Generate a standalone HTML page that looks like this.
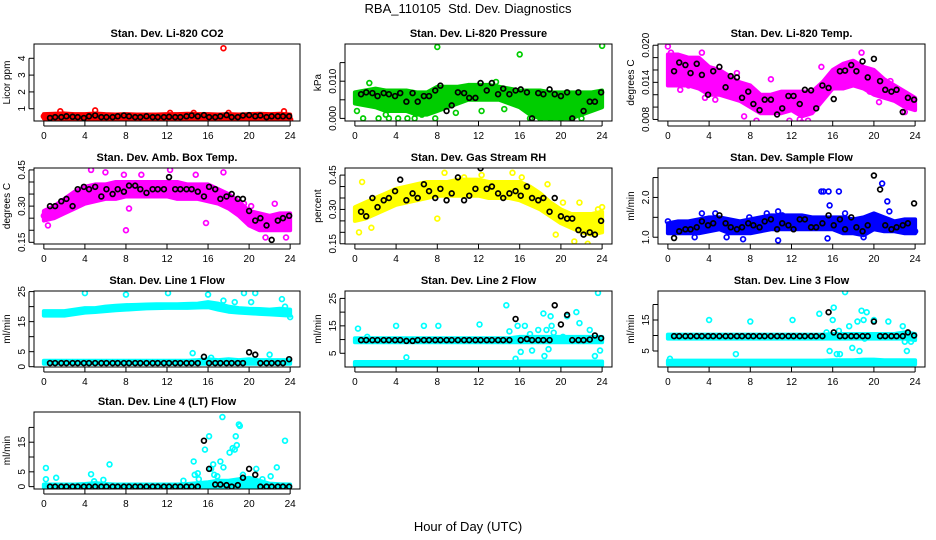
<!DOCTYPE html>
<html><head><meta charset="utf-8">
<style>
html,body{margin:0;padding:0;background:#fff;}
svg{display:block;font-family:"Liberation Sans",Arial,sans-serif;}
</style></head>
<body>
<svg id="chart" width="936" height="540" viewBox="0 0 936 540">
<text x="468" y="13" text-anchor="middle" font-size="13">RBA_110105&#160; Std. Dev. Diagnostics</text>
<text x="468" y="531" text-anchor="middle" font-size="13">Hour of Day (UTC)</text>
</svg>
<script>
const blackHours=[0.6,1.1,1.7,2.2,2.8,3.3,3.9,4.4,5.0,5.6,6.1,6.7,7.2,7.8,8.3,8.9,9.4,10.0,10.6,11.1,11.7,12.2,12.8,13.3,13.9,14.4,15.0,15.6,16.1,16.7,17.2,17.8,18.3,18.9,19.4,20.0,20.6,21.1,21.7,22.2,22.8,23.3,23.9];
const bandHours=[0,1,2,3,4,5,6,7,8,9,10,11,12,13,14,15,16,17,18,19,20,21,22,23,24];
const xTicks=[0,4,8,12,16,20,24];

// Panel 1 CO2
const co2Lo=[0.42,0.42,0.42,0.42,0.42,0.42,0.42,0.42,0.42,0.42,0.42,0.42,0.42,0.42,0.42,0.42,0.42,0.42,0.42,0.42,0.42,0.42,0.42,0.42,0.42];
const co2Hi=[0.68,0.7,0.72,0.68,0.68,0.72,0.68,0.66,0.68,0.66,0.66,0.66,0.68,0.68,0.7,0.68,0.68,0.66,0.68,0.66,0.68,0.7,0.68,0.7,0.66];
const co2Black=[0.45,0.5,0.5,0.55,0.52,0.5,0.45,0.55,0.6,0.5,0.5,0.5,0.55,0.6,0.55,0.5,0.5,0.55,0.5,0.5,0.5,0.52,0.5,0.5,0.55,0.6,0.55,0.62,0.5,0.5,0.55,0.62,0.5,0.5,0.6,0.62,0.55,0.6,0.5,0.55,0.55,0.55,0.55];
const co2OutX=[17.5,1.6,5.0,12.3,14.6,18.0,23.4,24.0,0.0,9.5];
const co2OutY=[4.6,0.85,0.9,0.75,0.75,0.75,0.85,0.35,0.55,0.35];

// Panel 2 Pressure
const prLo=[0.004,0.0035,0.003,0.002,0.002,0.002,0.001,0.001,0.002,0.003,0.004,0.005,0.005,0.005,0.005,0.004,0.003,0.001,0,0,0,0,0.001,0.002,0.003];
const prHi=[0.007,0.0075,0.008,0.0075,0.0075,0.0075,0.007,0.007,0.0085,0.0085,0.0085,0.009,0.009,0.009,0.0085,0.008,0.0075,0.0075,0.0075,0.007,0.007,0.007,0.007,0.007,0.0075];
const prBlack=[0.0065,0.007,0.0068,0.006,0.0068,0.0065,0.006,0.0068,0.0045,0.0068,0.0045,0.006,0.006,0.0075,0.0088,0.002,0.0035,0.007,0.0068,0.0055,0.0055,0.0095,0.0075,0.0095,0.0065,0.008,0.0065,0.0075,0.0078,0.007,0,0.0068,0.0065,0.0078,0.0065,0.006,0.007,0,0.007,0.002,0.0045,0.0045,0.007];
const prOutX=[8.0,16.0,24.0,0.8,2.3,3.3,4.2,5.1,1.4,13.7,17.0,18.0,19.0,20.0,21.0,22.0,0.2,7.8,6.5,3.0,5.8,9.8,12.3,14.5];
const prOutY=[0.0192,0.0172,0.0195,0,0,0,0,0,0.0095,0.0098,0,0,0,0,0,0,0.002,0,0.001,0.001,0,0.0015,0.002,0.0025];

// Panel 3 Li-820 Temp
const ltLo=[0.0135,0.0135,0.0135,0.013,0.012,0.012,0.0115,0.011,0.010,0.009,0.009,0.009,0.0095,0.0085,0.009,0.011,0.013,0.013,0.0135,0.013,0.012,0.0115,0.011,0.010,0.0095];
const ltHi=[0.0185,0.0185,0.018,0.018,0.0165,0.016,0.015,0.014,0.0135,0.012,0.012,0.0125,0.0125,0.0125,0.0125,0.014,0.016,0.017,0.0175,0.0165,0.016,0.0145,0.0135,0.0125,0.0115];
const ltBlack=[0.0158,0.0172,0.0168,0.0155,0.017,0.0152,0.012,0.0158,0.0165,0.0132,0.015,0.0148,0.0115,0.0125,0.0105,0.0095,0.0112,0.0112,0.0088,0.0098,0.0118,0.0118,0.0105,0.0128,0.0127,0.0098,0.0135,0.0131,0.0113,0.0158,0.0159,0.0168,0.0158,0.0174,0.0148,0.0178,0.0142,0.0128,0.0125,0.0128,0.0092,0.0115,0.0112];
const ltOutX=[0.0,0.3,1.2,2.0,3.3,4.6,6.7,7.4,8.6,9.5,10.0,11.8,12.8,13.0,13.6,14.9,16.8,18.8,19.6,20.5,21.6,23.0,3.6];
const ltOutY=[0.0198,0.0188,0.0128,0.0135,0.0188,0.0112,0.0155,0.0085,0.0078,0.0098,0.0145,0.0078,0.008,0.0075,0.0078,0.0165,0.0135,0.0188,0.0125,0.0108,0.0142,0.0092,0.0115];

// Panel 4 Amb Box Temp
const abLo=[0.24,0.25,0.27,0.29,0.31,0.32,0.33,0.33,0.34,0.34,0.34,0.34,0.34,0.33,0.33,0.33,0.32,0.31,0.29,0.26,0.22,0.20,0.20,0.20,0.20];
const abHi=[0.28,0.30,0.33,0.36,0.38,0.39,0.39,0.40,0.40,0.40,0.40,0.40,0.40,0.40,0.39,0.39,0.39,0.37,0.35,0.32,0.28,0.27,0.26,0.27,0.27];
const abBlack=[0.30,0.30,0.32,0.33,0.30,0.37,0.38,0.37,0.38,0.34,0.37,0.35,0.37,0.36,0.385,0.385,0.37,0.355,0.37,0.37,0.37,0.42,0.37,0.37,0.37,0.37,0.36,0.34,0.38,0.37,0.33,0.34,0.35,0.33,0.33,0.28,0.24,0.25,0.22,0.16,0.24,0.25,0.26];
const abOutX=[0.4,4.6,6.0,7.8,8.0,8.3,9.5,12.3,14.8,15.8,17.5,19.5,20.2,22.5,21.6,23.6,0.0];
const abOutY=[0.22,0.45,0.44,0.43,0.2,0.29,0.43,0.45,0.43,0.23,0.44,0.31,0.30,0.31,0.17,0.17,0.26];

// Panel 5 Gas Stream RH
const rhLo=[0.25,0.26,0.28,0.30,0.32,0.33,0.34,0.35,0.36,0.36,0.36,0.36,0.36,0.35,0.35,0.35,0.34,0.32,0.30,0.27,0.24,0.22,0.20,0.19,0.20];
const rhHi=[0.31,0.33,0.35,0.37,0.39,0.40,0.41,0.42,0.42,0.42,0.43,0.43,0.43,0.42,0.42,0.42,0.42,0.40,0.37,0.33,0.30,0.28,0.28,0.28,0.29];
const rhBlack=[0.29,0.27,0.35,0.31,0.34,0.35,0.38,0.43,0.34,0.37,0.35,0.41,0.38,0.35,0.39,0.34,0.37,0.44,0.34,0.36,0.39,0.48,0.39,0.4,0.37,0.35,0.37,0.38,0.36,0.40,0.35,0.34,0.35,0.29,0.35,0.27,0.26,0.26,0.21,0.19,0.2,0.19,0.25];
const rhOutX=[0.7,0.4,1.6,8.0,8.7,10.6,12.3,15.3,16.2,18.7,19.5,20.2,21.3,21.8,22.6,23.6,24.0];
const rhOutY=[0.42,0.2,0.22,0.26,0.46,0.44,0.45,0.46,0.44,0.41,0.19,0.33,0.16,0.33,0.15,0.3,0.31];

// Panel 6 Sample Flow
const sfLo=[1.1,1.1,1.1,1.1,1.15,1.2,1.1,1.1,1.1,1.15,1.2,1.2,1.2,1.2,1.2,1.2,1.2,1.1,1.1,1.05,1.2,1.15,1.15,1.1,1.1];
const sfHi=[1.35,1.4,1.4,1.45,1.5,1.5,1.45,1.4,1.45,1.5,1.55,1.55,1.55,1.55,1.5,1.5,1.5,1.5,1.45,1.5,1.6,1.5,1.4,1.45,1.45];
const sfBlack=[0.98,1.15,1.2,1.2,1.25,1.4,1.3,1.35,1.55,1.35,1.25,1.2,1.25,1.35,1.3,1.25,1.4,1.45,1.2,1.35,1.3,1.2,1.45,1.45,1.25,1.25,1.35,1.55,1.3,1.45,1.2,1.5,1.25,1.15,1.3,2.55,2.2,1.3,1.2,1.25,1.3,1.35,1.85];
const sfOutX=[0.0,3.3,4.6,5.7,7.3,7.9,9.6,10.7,11.1,14.9,15.1,15.6,15.7,16.6,15.5,17.2,20.8,21.3,21.5,22.1,24.0,2.6,19.0,10.7];
const sfOutY=[1.4,1.6,1.6,1.0,0.95,1.5,1.6,1.65,1.55,2.15,2.15,2.15,1.8,2.15,0.97,1.6,2.35,1.9,1.65,2.85,1.15,1.0,1.0,0.92];

// Panel 7 Line 1 Flow
const l1UpLo=[17,17,17,17.5,18,18.2,18.5,18.8,19,19.2,19.4,19.5,19.6,19.6,19.6,19.7,19.8,19,18.3,18,17.8,17.6,17.4,17.2,17];
const l1UpHi=[18.5,18.5,18.5,19,19.5,19.5,20,20.3,20.5,20.6,20.7,20.8,20.8,20.8,20.9,21,21.5,21,20,19.5,19.3,19.2,19,19.3,19];
const l1LowLo=[1,1,1,1,1,1,1,1,1,1,1,1,1,1,1,1,1,1,1,1,1,1,1,1,1];
const l1LowHi=[2,2,2,2,2,2,2,2,2,2,2,2,2,2,2,2.2,2.5,2.2,2.5,2.2,2.5,2.2,2.2,2.2,2.2];
const l1Black=[1.2,1.2,1.2,1.2,1.2,1.2,1.2,1.2,1.2,1.2,1.2,1.2,1.2,1.2,1.2,1.2,1.2,1.2,1.2,1.2,1.2,1.2,1.2,1.2,1.2,1.2,1.2,3.3,1.2,1.2,1.2,1.2,1.2,1.2,1.2,4.8,4.0,1.2,1.2,1.2,1.2,1.2,2.5];
const l1OutX=[4.0,8.0,12.1,16.0,19.5,20.2,20.6,17.5,18.6,23.2,23.5,24.0,14.5,22.0,16.3];
const l1OutY=[24.5,24,24.5,24,24.5,21.5,24.5,22,21.5,22.5,20,16.5,4.5,4,3];

// Panel 8 Line 2 Flow
const l2UpLo=[9,9,9,9,9,9,9,9,9,9,9,9,9,9,9,9,9,9,9,9,9,9,9,9,9];
const l2UpHi=[10.5,10.5,10.5,10.5,10.5,10.5,10.5,10.5,10.5,10.5,10.5,10.5,10.5,10.5,10.5,10.5,11,11,11,11,11,11,11,11,11];
const l2LowLo=[0.7,0.7,0.7,0.7,0.7,0.7,0.7,0.7,0.7,0.7,0.7,0.7,0.7,0.7,0.7,0.7,0.7,0.7,0.7,0.7,0.7,0.7,0.7,0.7,0.7];
const l2LowHi=[1.8,1.8,1.8,1.8,1.8,1.8,1.8,1.8,1.8,1.8,1.8,1.8,1.8,1.8,1.8,1.8,2,2,2,2,2,2,2,2,2];
const l2Black=[9.8,9.8,9.8,9.8,9.8,9.8,9.8,9.8,9.5,9.5,9.8,9.8,9.8,9.8,9.8,9.8,9.8,9.8,9.8,9.8,9.8,9.8,9.8,9.8,9.8,9.8,9.8,17.5,9.8,10.2,9.8,9.8,9.8,9.8,22.5,15.5,19,9.8,9.8,9.8,10,11.5,10.5];
const l2OutX=[0.3,1.2,4.0,5.0,6.7,8.1,12.1,14.7,15.0,15.6,16.5,17.0,17.2,17.8,18.3,18.6,18.8,19.0,19.1,19.3,20.2,20.6,21.5,21.8,22.8,23.3,23.6,23.8,15.8,16.1,18.4];
const l2OutY=[14,11,15,3.5,15,15,15.5,22.5,13,3,15,12,6,13.5,19.5,13.5,6.5,18.5,15,12.5,11,18.5,20,16,13.5,4,27,6,15,5.5,4];

// Panel 9 Line 3 Flow
const l3UpLo=[9,9,9,9,9,9,9,9,9,9,9,9,9,9,9,9,9,9,9,9,9,9,9,9,8.5];
const l3UpHi=[10.3,10.3,10.3,10.3,10.3,10.3,10.3,10.3,10.3,10.3,10.3,10.3,10.3,10.3,10.3,10.3,10.5,10.5,10.5,10.5,10.5,10.5,10.5,11,10.5];
const l3LowLo=[0.7,0.7,0.7,0.7,0.7,0.7,0.7,0.7,0.7,0.7,0.7,0.7,0.7,0.7,0.7,0.7,0.7,0.7,0.7,0.7,0.7,0.7,0.7,0.7,0.7];
const l3LowHi=[1.9,1.9,1.9,1.9,1.9,1.9,1.9,1.9,1.9,1.9,1.9,1.9,1.9,1.9,1.9,1.9,2,2,2,2.2,2.2,2,2,2,2];
const l3Black=[9.8,9.8,9.8,9.8,9.8,9.8,9.8,9.8,9.8,9.8,9.8,9.8,9.8,9.8,9.8,9.8,9.8,9.8,9.8,9.8,9.8,9.8,9.8,9.8,9.8,9.8,9.8,17.5,11,9.8,9.8,9.8,9.8,9.8,9.8,14.5,9.8,9.8,9.8,9.8,9.8,11,10];
const l3OutX=[0.2,4.0,6.6,8.0,12.1,14.7,15.4,15.7,16.0,16.1,16.4,16.6,16.7,17.2,17.6,17.9,18.4,18.6,18.8,19.0,19.1,19.3,20.0,21.4,22.8,23.0,23.6,23.2];
const l3OutY=[2.5,15,4,14.5,15,17,11,5,15,19,4,11.5,4,24,13,6,14.5,5,18,15,9,17.5,15,14.5,13,8,8,5];

// Panel 10 Line 4 (LT) Flow
const l4Lo=[-0.3,-0.3,-0.3,-0.3,-0.3,-0.3,-0.3,-0.3,-0.3,-0.3,-0.3,-0.3,-0.3,-0.3,-0.3,-0.3,-0.3,-0.3,-0.3,-0.3,-0.3,-0.3,-0.3,-0.3,-0.3];
const l4Hi=[0.7,0.7,0.7,0.7,0.9,1.2,0.9,0.7,0.7,0.7,0.7,0.7,0.7,0.7,0.9,1.2,1.5,2,2,2.5,3,2,1,0.8,0.7];
const l4Black=[0,0,0,0,0,0,0,0,0,0,0,0,0,0,0,0,0,0,0,0,0,0,0,0,0,0,0,15.5,6,0.7,0.7,0.5,0,0.5,3,6,4,0,0,0,0,0,0];
const l4OutX=[0.2,0.2,1.2,4.6,4.9,5.8,6.4,13.6,14.6,14.7,15.0,15.1,15.7,16.1,16.3,16.5,16.6,16.9,17.2,17.4,17.5,18.1,18.4,18.6,18.7,18.8,19.0,19.1,19.4,20.7,21.3,22.1,22.7,23.5];
const l4OutY=[6.3,2.5,3,4.2,1.8,2.3,7.5,2,8.5,4,4.5,2.5,12.5,17,6,7.5,4,3.5,8.5,23.5,6.5,11.5,13,12.5,17,14,21,20.5,4,6,2.5,3.5,6.5,15.5];

const NS='http://www.w3.org/2000/svg';
const svg=document.getElementById('chart');
function mk(tag,attrs,parent){const e=document.createElementNS(NS,tag);for(const k in attrs)e.setAttribute(k,attrs[k]);(parent||svg).appendChild(e);return e;}

const colX=[[34,300],[345,612],[658,925]];
const rowY=[[44,121],[168,244],[291,367],[412,489]];

const panels=[
 {key:'co2',title:'Stan. Dev. Li-820 CO2',ylab:'Licor ppm',col:0,row:0,color:'#ff0000',ydom:[0.27,4.85],yt:[1,2,3,4],ytl:['1','2','3','4'],bands:[[co2Lo,co2Hi]],black:co2Black,ox:co2OutX,oy:co2OutY},
 {key:'pressure',title:'Stan. Dev. Li-820 Pressure',ylab:'kPa',col:1,row:0,color:'#00cd00',ydom:[-0.0007,0.020],yt:[0,0.005,0.010,0.015],ytl:['0.000','','0.010',''],bands:[[prLo,prHi]],black:prBlack,ox:prOutX,oy:prOutY},
 {key:'li820-temp',title:'Stan. Dev. Li-820 Temp.',ylab:'degrees C',col:2,row:0,color:'#ff00ff',ydom:[0.00775,0.0202],yt:[0.008,0.010,0.012,0.014,0.016,0.018,0.020],ytl:['0.008','','','0.014','','','0.020'],bands:[[ltLo,ltHi]],black:ltBlack,ox:ltOutX,oy:ltOutY},
 {key:'amb-box-temp',title:'Stan. Dev. Amb. Box Temp.',ylab:'degrees C',col:0,row:1,color:'#ff00ff',ydom:[0.143,0.458],yt:[0.15,0.20,0.25,0.30,0.35,0.40,0.45],ytl:['0.15','','','0.30','','','0.45'],bands:[[abLo,abHi]],black:abBlack,ox:abOutX,oy:abOutY},
 {key:'gas-rh',title:'Stan. Dev. Gas Stream RH',ylab:'percent',col:1,row:1,color:'#ffff00',ydom:[0.149,0.481],yt:[0.15,0.20,0.25,0.30,0.35,0.40,0.45],ytl:['0.15','','','0.30','','','0.45'],bands:[[rhLo,rhHi]],black:rhBlack,ox:rhOutX,oy:rhOutY},
 {key:'sample-flow',title:'Stan. Dev. Sample Flow',ylab:'ml/min',col:2,row:1,color:'#0000ff',ydom:[0.83,2.74],yt:[1.0,1.5,2.0,2.5],ytl:['1.0','','2.0',''],bands:[[sfLo,sfHi]],black:sfBlack,ox:sfOutX,oy:sfOutY},
 {key:'line1-flow',title:'Stan. Dev. Line 1 Flow',ylab:'ml/min',col:0,row:2,color:'#00ffff',ydom:[-0.1,25.2],yt:[0,5,10,15,20,25],ytl:['0','5','','15','','25'],bands:[[l1UpLo,l1UpHi],[l1LowLo,l1LowHi]],black:l1Black,ox:l1OutX,oy:l1OutY},
 {key:'line2-flow',title:'Stan. Dev. Line 2 Flow',ylab:'ml/min',col:1,row:2,color:'#00ffff',ydom:[0,27.7],yt:[5,10,15,20,25],ytl:['5','','15','','25'],bands:[[l2UpLo,l2UpHi],[l2LowLo,l2LowHi]],black:l2Black,ox:l2OutX,oy:l2OutY},
 {key:'line3-flow',title:'Stan. Dev. Line 3 Flow',ylab:'ml/min',col:2,row:2,color:'#00ffff',ydom:[-0.16,24.35],yt:[5,10,15,20],ytl:['5','','15',''],bands:[[l3UpLo,l3UpHi],[l3LowLo,l3LowHi]],black:l3Black,ox:l3OutX,oy:l3OutY},
 {key:'line4-flow',title:'Stan. Dev. Line 4 (LT) Flow',ylab:'ml/min',col:0,row:3,color:'#00ffff',ydom:[-0.8,25.2],yt:[0,5,10,15,20],ytl:['0','5','','15',''],bands:[[l4Lo,l4Hi]],black:l4Black,ox:l4OutX,oy:l4OutY}
];

panels.forEach(p=>{
 const [L,R]=colX[p.col],[T,B]=rowY[p.row];
 const xs=v=>L+(v+0.96)/25.92*(R-L);
 const ys=v=>B-(v-p.ydom[0])/(p.ydom[1]-p.ydom[0])*(B-T);
 const g=mk('g',{});
 
 
 const clipId='clip-'+p.key;
 const cp=mk('clipPath',{id:clipId},g);mk('rect',{x:L,y:T,width:R-L,height:B-T},cp);
 const plot=mk('g',{'clip-path':'url(#'+clipId+')'},g);
 p.bands.forEach((b,bi)=>{
  let pts=[];
  bandHours.forEach((h,i)=>pts.push(xs(h)+','+ys(b[1][i])));
  for(let i=bandHours.length-1;i>=0;i--)pts.push(xs(bandHours[i])+','+ys(b[0][i]));
  const poly=mk('polygon',{points:pts.join(' '),fill:p.color,stroke:p.color,'stroke-width':4,'stroke-linejoin':'round'},plot);
  
  
 });
 p.ox.forEach((x,i)=>{
  const c=mk('circle',{cx:xs(x),cy:ys(p.oy[i]),r:2.4,fill:'none',stroke:p.color,'stroke-width':1.7},plot);
  
  
 });
 blackHours.forEach((h,i)=>{
  const c=mk('circle',{cx:xs(h),cy:ys(p.black[i]),r:2.4,fill:'none',stroke:'#000','stroke-width':1.7},plot);
  
  
 });
 const box=mk('rect',{x:L,y:T,width:R-L,height:B-T,fill:'none',stroke:'#000','stroke-width':1},g);
 
 
 const t=mk('text',{x:(L+R)/2,y:T-7,'text-anchor':'middle','font-size':11,'font-weight':'bold'},g);
 t.textContent=p.title;
 
 
 xTicks.forEach(v=>{
  const x=xs(v);
  mk('line',{x1:x,x2:x,y1:B,y2:B+5,stroke:'#000'},g);
  const tl=mk('text',{x:x,y:B+18,'text-anchor':'middle','font-size':10},g);
  tl.textContent=v;
  
  
 });
 mk('line',{x1:xs(0),x2:xs(24),y1:B+5,y2:B+5,stroke:'#000'},g);
 p.yt.forEach((v,i)=>{
  const y=ys(v);
  mk('line',{x1:L-5,x2:L,y1:y,y2:y,stroke:'#000'},g);
  if(p.ytl[i]){
   const tl=mk('text',{x:L-9,y:y,'text-anchor':'middle','font-size':10,transform:'rotate(-90 '+(L-9)+' '+y+')'},g);
   tl.textContent=p.ytl[i];
   
   
  }
 });
 mk('line',{x1:L-5,x2:L-5,y1:ys(p.yt[0]),y2:ys(p.yt[p.yt.length-1]),stroke:'#000'},g);
 const yl=mk('text',{x:L-24,y:(T+B)/2,'text-anchor':'middle','font-size':10,transform:'rotate(-90 '+(L-24)+' '+((T+B)/2)+')'},g);
 yl.textContent=p.ylab;
 
 
});
</script>
</body></html>
